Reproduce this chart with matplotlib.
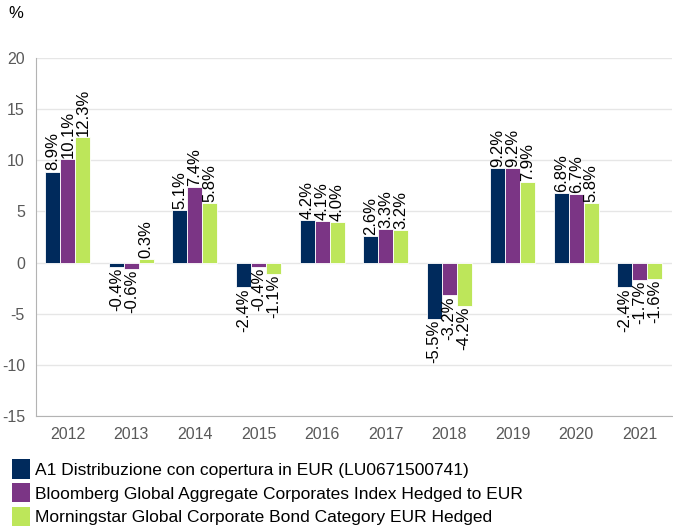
import numpy as np
import matplotlib
matplotlib.use("Agg")
import matplotlib.pyplot as plt
from matplotlib.patches import Patch

plt.rcParams['font.family'] = ['Liberation Sans', 'DejaVu Sans']
plt.rcParams['axes.unicode_minus'] = False

years = ['2012', '2013', '2014', '2015', '2016', '2017', '2018', '2019', '2020', '2021']
fund = [8.9, -0.4, 5.1, -2.4, 4.2, 2.6, -5.5, 9.2, 6.8, -2.4]
index = [10.1, -0.6, 7.4, -0.4, 4.1, 3.3, -3.2, 9.2, 6.7, -1.7]
category = [12.3, 0.3, 5.8, -1.1, 4.0, 3.2, -4.2, 7.9, 5.8, -1.6]
series_names = ['A1 Distribuzione con copertura in EUR (LU0671500741)',
                'Bloomberg Global Aggregate Corporates Index Hedged to EUR',
                'Morningstar Global Corporate Bond Category EUR Hedged']
colors = ['#002a5c', '#7b3585', '#bde65a']

fig = plt.figure(figsize=(6.73, 5.31), dpi=100)
ax = fig.add_axes([0.0535, 0.2166, 0.9445, 0.6742])

x = np.arange(len(years))
w = 0.236
grey = '#595959'

for k, vals in enumerate([fund, index, category]):
    pos = x + (k - 1) * w
    ax.bar(pos, vals, w, color=colors[k], edgecolor='white', linewidth=0.6, zorder=3)
    for xp, v in zip(pos, vals):
        if v >= 0:
            ax.text(xp, v + 0.1, f'{v:.1f}%', rotation=90, ha='center', va='bottom',
                    fontsize=12, color='black', zorder=4)
        else:
            ax.text(xp, v - 0.1, f'{v:.1f}%', rotation=90, ha='center', va='top',
                    fontsize=12, color='black', zorder=4)

ax.set_xlim(-0.5, len(years) - 0.5)
ax.set_ylim(-15, 20)
ax.set_yticks([-15, -10, -5, 0, 5, 10, 15, 20])
ax.set_xticks(x)
ax.set_xticklabels(years)
ax.tick_params(axis='both', length=0, labelsize=11.5, labelcolor=grey, pad=8)
ax.yaxis.grid(True, color='#e6e6e6', linewidth=1, zorder=0)
ax.set_axisbelow(True)
for s in ['top', 'right']:
    ax.spines[s].set_visible(False)
ax.spines['left'].set_color('#b3b3b3')
ax.spines['bottom'].set_color('#b3b3b3')

fig.text(8 / 673, 1 - 13 / 531, '%', fontsize=12, color='black', ha='left', va='center')

handles = [Patch(facecolor=c, edgecolor='none') for c in colors]
fig.legend(handles, series_names, loc='upper left', bbox_to_anchor=(0.0, 1 - 447 / 531),
           frameon=False, fontsize=12.5, handlelength=1.0, handleheight=1.35,
           handletextpad=0.3, labelspacing=0.25, borderaxespad=0.3)

fig.savefig('out.png', dpi=100)
